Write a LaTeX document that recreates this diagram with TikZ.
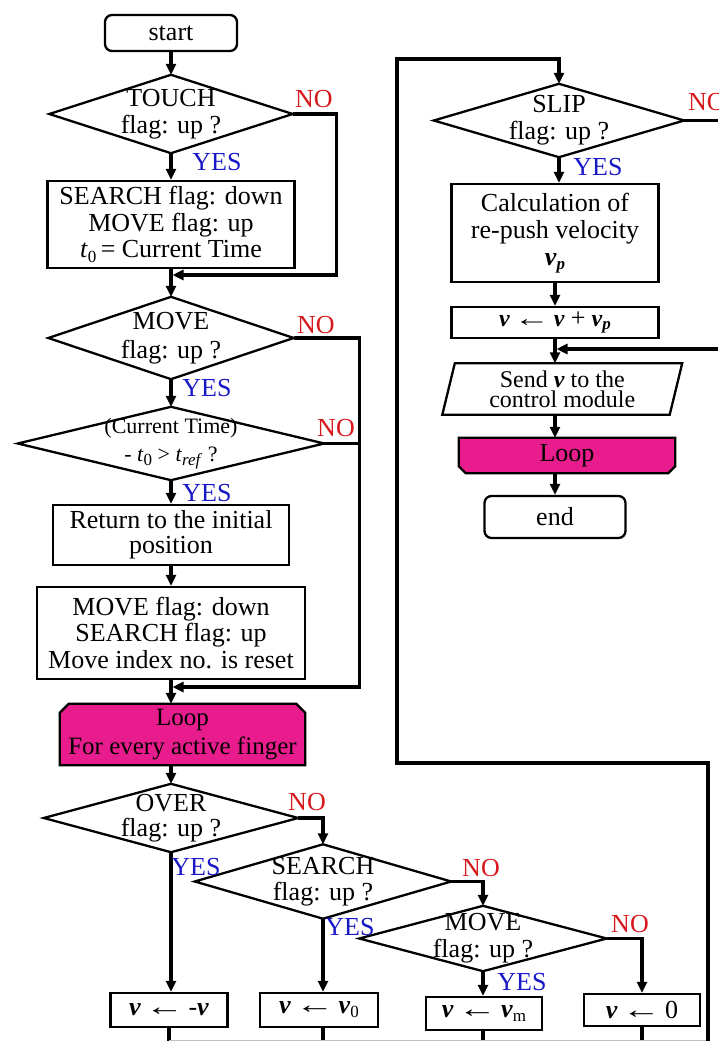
\documentclass[tikz,border=0pt]{standalone}
\usepackage{fontspec}
\usepackage{graphicx}
\setmainfont{Liberation Serif}
\usetikzlibrary{arrows.meta,calc}
\pgfdeclarelayer{bg}
\pgfsetlayers{bg,main}
\definecolor{nored}{RGB}{215,25,30}
\definecolor{yesblue}{RGB}{25,25,200}
\definecolor{loopink}{RGB}{232,28,140}
\newcommand{\bv}{\textbf{\textit{v}}}
\newcommand{\lsub}[1]{\raisebox{-0.35ex}{\fontsize{17}{17}\selectfont #1}}
\newcommand{\larr}{\,\scalebox{1.5}[1]{←}\,}
\begin{document}
\begin{tikzpicture}[x=1pt,y=-1pt,
  blk/.style={rectangle, inner sep=0pt, align=center, font=\fontsize{26}{26.5}\selectfont},
  shp/.style={draw=black, line width=2.3pt, line join=miter},
  pbox/.style={blk, shp},
  rbox/.style={blk, shp, rounded corners=7pt},
  conn/.style={line width=3.2pt, -{Triangle[length=11pt,width=10pt]}},
  wire/.style={line width=3.2pt},
  nolab/.style={text=nored, inner sep=0pt, font=\fontsize{26}{26}\selectfont},
  yeslab/.style={text=yesblue, inner sep=0pt, font=\fontsize{26}{26}\selectfont}]
\useasboundingbox (0,0) rectangle (718,1041);

% ---------- left column ----------
\node[rbox, minimum width=132pt, minimum height=36pt] (start) at (171,33) {start};
\node[blk, minimum width=243pt, minimum height=78pt, font=\fontsize{26}{27}\selectfont] (touch) at (171,114) {TOUCH\\flag: up ?};
\node[pbox, minimum width=247pt, minimum height=87pt] (b1) at (171,224.5)
  {SEARCH flag: down\\MOVE flag: up\\\textit{t}\lsub{0}\,= Current Time};
\node[blk, minimum width=245pt, minimum height=82pt, font=\fontsize{26}{29}\selectfont] (move) at (171,338) {MOVE\\flag: up ?};
\node[blk, minimum width=306pt, minimum height=73pt, font=\fontsize{22}{28}\selectfont] (time) at (171,443.5)
  {(Current Time)\\- \textit{t}\lsub{0} > \textit{t}\lsub{\textit{ref}} ?};
\node[pbox, minimum width=236pt, minimum height=60pt, font=\fontsize{26}{25}\selectfont] (ret) at (171,535) {Return to the initial\\position};
\node[pbox, minimum width=268pt, minimum height=92pt] (b3) at (171,633)
  {MOVE flag: down\\SEARCH flag: up\\Move index no. is reset};
\node[blk, minimum width=245pt, minimum height=61pt, font=\fontsize{25}{29}\selectfont] (loop1) at (182.5,734.5)
  {Loop\\For every active finger};

% ---------- bottom decisions ----------
\node[blk, minimum width=254pt, minimum height=68pt, font=\fontsize{26}{25}\selectfont] (over) at (171,818) {OVER\\flag: up ?};
\node[blk, minimum width=256pt, minimum height=74pt, font=\fontsize{26}{26}\selectfont] (search) at (323,881.5) {SEARCH\\flag: up ?};
\node[blk, minimum width=247pt, minimum height=65pt, font=\fontsize{26}{27}\selectfont] (move2) at (483,938.5) {MOVE\\flag: up ?};

\node[pbox, minimum width=117pt, minimum height=34pt] (v1) at (169,1010) {\bv\larr-\bv};
\node[pbox, minimum width=118pt, minimum height=34pt] (v0) at (319,1010) {\bv\larr\bv\lsub{0}};
\node[pbox, minimum width=116pt, minimum height=33pt] (vm) at (484,1013.5) {\bv\larr\bv\lsub{m}};
\node[pbox, minimum width=116pt, minimum height=32pt] (vz) at (642,1010) {\bv\larr0};

% ---------- right column ----------
\node[blk, minimum width=250pt, minimum height=73pt, font=\fontsize{26}{27}\selectfont] (slip) at (559,120.5) {SLIP\\flag: up ?};
\node[pbox, minimum width=207pt, minimum height=98pt, font=\fontsize{26}{27}\selectfont] (calc) at (555,233)
  {Calculation of\\re-push velocity\\\bv\lsub{\textbf{\textit{p}}}};
\node[pbox, minimum width=207pt, minimum height=31pt, font=\fontsize{24}{26}\selectfont] (upd) at (555,322.5) {\bv\larr\bv\ {\fontsize{26}{26}\selectfont +} \bv\lsub{\textbf{\textit{p}}}};
\node[blk, minimum width=227pt, minimum height=51pt, font=\fontsize{24}{20}\selectfont] (send) at (562.25,389)
  {Send \bv\ to the\\control module};
\node[blk, minimum width=216pt, minimum height=35pt] (loop2) at (567,455.5) {Loop};
\node[rbox, minimum width=141pt, minimum height=42pt] (end) at (555,517) {end};

% ---------- outlines ----------
\foreach \d in {touch,move,time,over,search,move2,slip}
  \draw[shp] (\d.north) -- (\d.east) -- (\d.south) -- (\d.west) -- cycle;
\draw[shp] ($(send.north west)+(6.25,0)$) -- ($(send.north east)+(6.25,0)$)
  -- ($(send.south east)+(-6.25,0)$) -- ($(send.south west)+(-6.25,0)$) -- cycle;
\begin{pgfonlayer}{bg}
\draw[shp, fill=loopink] (loop1.south west) -- ($(loop1.north west)+(0,9)$) -- ($(loop1.north west)+(9,0)$)
  -- ($(loop1.north east)+(-9,0)$) -- ($(loop1.north east)+(0,9)$) -- (loop1.south east) -- cycle;
\draw[shp, fill=loopink] (loop2.north west) -- (loop2.north east) -- ($(loop2.south east)+(0,-7)$)
  -- ($(loop2.south east)+(-7,0)$) -- ($(loop2.south west)+(7,0)$) -- ($(loop2.south west)+(0,-7)$) -- cycle;
\end{pgfonlayer}

% ---------- junctions / free ends ----------
\coordinate (j1) at (171,275);
\coordinate (j2) at (171,687);
\coordinate (bot) at (0,1041);
\coordinate (r1) at (708,1041);
\coordinate (r2) at (708,763);
\coordinate (r3) at (397,763);
\coordinate (r4) at (397,59);
\coordinate (sout) at (718,120.5);
\coordinate (in2) at (718,349);

% ---------- connectors, left ----------
\draw[conn] (start.south) -- (touch.north);
\draw[conn] (touch.south) -- (b1.north);
\draw[conn] (b1.south) -- (move.north);
\draw[conn, shorten >=1.5pt] (touch.east) -- ++(44,0) |- (j1);
\draw[conn] (move.south) -- (time.north);
\draw[conn] (time.south) -- (ret.north);
\draw[conn] (ret.south) -- (b3.north);
\draw[conn] (b3.south) -- (b3.south |- loop1.north);
\draw[conn, shorten >=1.5pt] (move.east) -- ++(66,0) |- (j2);
\draw[wire] (time.east) -- (time.east -| 359,0);
\draw[conn] (loop1.south -| over.north) -- (over.north);

% ---------- connectors, bottom ----------
\draw[conn] (over.south) -- (over.south |- v1.north);
\draw[conn] (over.east) -| (search.north);
\draw[conn] (search.south) -- (search.south |- v0.north);
\draw[conn] (search.east) -| (move2.north);
\draw[conn] (move2.south) -- (move2.south |- vm.north);
\draw[conn] (move2.east) -| (vz.north);
\draw[wire] (v1.south) -- (v1.south |- bot);
\draw[wire] (search.south |- v0.south) -- (search.south |- bot);
\draw[wire] (move2.south |- vm.south) -- (move2.south |- bot);
\draw[wire] (vz.south) -- (vz.south |- bot);
\draw[black!25, line width=1pt] (169,1040.5) -- (708,1040.5);

% ---------- loop back to right column ----------
\draw[conn] (r1) -- (r2) -- (r3) -- (r4) -| (slip.north);
\draw[conn] (slip.south) -- (slip.south |- calc.north);
\draw[wire] (slip.east) -- (sout);
\draw[conn] (calc.south) -- (upd.north);
\draw[conn] (upd.south) -- (upd.south |- send.north);
\draw[conn, shorten >=1.5pt] (in2) -- (upd.south |- in2);
\draw[conn] (upd.south |- send.south) -- (upd.south |- loop2.north);
\draw[conn] (upd.south |- loop2.south) -- (end.north);

% ---------- labels ----------
\node[nolab] (no1) at (314,99) {NO};
\node[yeslab] (yes1) at (217,162) {YES};
\node[nolab] (no2) at (316,325) {NO};
\node[yeslab] (yes2) at (207,388) {YES};
\node[nolab] (no3) at (336,428) {NO};
\node[yeslab] (yes3) at (207,493) {YES};
\node[nolab] (no4) at (307,802) {NO};
\node[yeslab] (yes4) at (196,867) {YES};
\node[nolab] (no5) at (481,868) {NO};
\node[yeslab] (yes5) at (350,927) {YES};
\node[nolab] (no6) at (630,924) {NO};
\node[yeslab] (yes6) at (522,982) {YES};
\node[nolab, anchor=west] (no7) at (688,102) {NO};
\node[yeslab] (yes7) at (598,167) {YES};
\end{tikzpicture}
\end{document}
